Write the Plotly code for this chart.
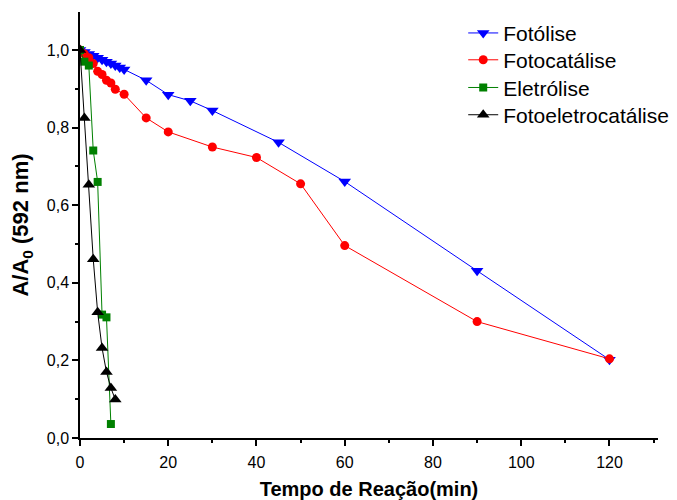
import plotly.graph_objects as go

# Fotólise
t_fotolise = [0, 1, 2, 3, 4, 5, 6, 7, 8, 9, 10, 15, 20, 25, 30, 45, 60, 90, 120]
v_fotolise = [1.0, 0.995, 0.99, 0.985, 0.98, 0.975, 0.97, 0.965, 0.96, 0.955, 0.95,
              0.922, 0.885, 0.869, 0.844, 0.762, 0.661, 0.431, 0.202]

# Fotocatálise
t_fotocat = [0, 1, 2, 3, 4, 5, 6, 7, 8, 10, 15, 20, 30, 40, 50, 60, 90, 120]
v_fotocat = [1.0, 0.99, 0.98, 0.965, 0.945, 0.937, 0.922, 0.915, 0.899, 0.886,
             0.825, 0.789, 0.75, 0.723, 0.655, 0.496, 0.30, 0.204]

# Eletrólise
t_eletro = [0, 1, 2, 3, 4, 5, 6, 7]
v_eletro = [1.0, 0.97, 0.96, 0.741, 0.66, 0.318, 0.311, 0.036]

# Fotoeletrocatálise
t_fotoeletro = [0, 1, 2, 3, 4, 5, 6, 7, 8]
v_fotoeletro = [1.0, 0.825, 0.653, 0.461, 0.324, 0.232, 0.17, 0.129, 0.099]

x_ticks = [0, 20, 40, 60, 80, 100, 120]
y_ticks = [0.0, 0.2, 0.4, 0.6, 0.8, 1.0]

FONT = "Arial, Liberation Sans"

fig = go.Figure()
series = [
    ("Fotólise", t_fotolise, v_fotolise, "#0000FF", "triangle-down", 11, "legend"),
    ("Fotocatálise", t_fotocat, v_fotocat, "#FF0000", "circle", 9, "legend2"),
    ("Eletrólise", t_eletro, v_eletro, "#008000", "square", 8, "legend3"),
    ("Fotoeletrocatálise", t_fotoeletro, v_fotoeletro, "#000000", "triangle-up", 11, "legend4"),
]
for name, x, y, c, sym, sz, lg in series:
    fig.add_trace(go.Scatter(
        x=x, y=y, name=name, mode="lines+markers", legend=lg,
        line=dict(color=c, width=1),
        marker=dict(color=c, symbol=sym, size=sz, line=dict(width=0)),
    ))

axis_common = dict(
    showgrid=False, zeroline=False, showline=True, linecolor="black", linewidth=1.5,
    ticks="outside", ticklen=6, tickwidth=1.5, tickcolor="black",
    tickfont=dict(family=FONT, size=16, color="black"),
    mirror=False, automargin=False,
)

fig.update_xaxes(
    range=[0, 131], tickvals=x_ticks, ticktext=[str(v) for v in x_ticks],
    ticklabelstandoff=3,
    minor=dict(dtick=10, tick0=0, ticks="outside", ticklen=3, tickwidth=1.5, tickcolor="black"),
    title=dict(text="<b>Tempo de Reação(min)</b>",
               font=dict(family=FONT, size=20, color="black"), standoff=12),
    **axis_common,
)
fig.update_yaxes(
    range=[0, 1.098], tickvals=y_ticks, tickformat=".1f",
    minor=dict(dtick=0.1, tick0=0, ticks="outside", ticklen=3, tickwidth=1.5, tickcolor="black"),
    title=dict(text="<b>A/A<sub>0</sub> (592 nm)</b>",
               font=dict(family=FONT, size=22, color="black"), standoff=12),
    **axis_common,
)

legend_y = [0.950, 0.887, 0.822, 0.758]
legend_common = dict(
    x=0.663, xanchor="left", yanchor="middle",
    font=dict(family=FONT, size=21, color="black"),
    bgcolor="rgba(0,0,0,0)",
)

fig.update_layout(
    width=677, height=500,
    margin=dict(l=72, r=27, t=4, b=70),
    paper_bgcolor="white", plot_bgcolor="white",
    separators=",.",
    showlegend=True,
    legend=dict(y=legend_y[0], **legend_common),
    legend2=dict(y=legend_y[1], **legend_common),
    legend3=dict(y=legend_y[2], **legend_common),
    legend4=dict(y=legend_y[3], **legend_common),
)

fig.write_html("out.html")
